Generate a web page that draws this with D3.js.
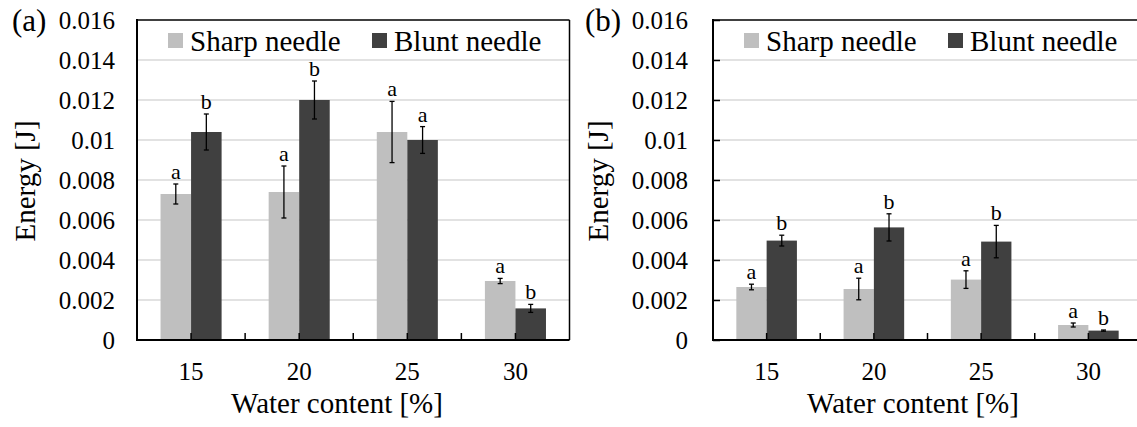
<!DOCTYPE html>
<html>
<head>
<meta charset="utf-8">
<script src="https://cdn.jsdelivr.net/npm/d3@7"></script>
<style>
    body { margin: 0; background: #fff; }
    svg { display: block; }
    svg text { font-family: "Liberation Serif", Tinos, "Times New Roman", Times, "DejaVu Serif", serif; }
</style>
</head>
<body>
<svg width="1137" height="427"></svg>
<script>
var categories = ["15", "20", "25", "30"];
var seriesNames = ["Sharp needle", "Blunt needle"];
var yTicks = [0, 0.002, 0.004, 0.006, 0.008, 0.01, 0.012, 0.014, 0.016];

// panel (a)
var sharpA = [0.0073, 0.0074, 0.0104, 0.00295];
var sharpErrA = [0.0005, 0.0013, 0.00153, 0.00013];
var bluntA = [0.0104, 0.0120, 0.0100, 0.00158];
var bluntErrA = [0.0009, 0.00095, 0.00067, 0.0002];
var sharpLetA = ["a", "a", "a", "a"];
var bluntLetA = ["b", "b", "a", "b"];

// panel (b)
var sharpB = [0.00265, 0.00255, 0.00302, 0.00075];
var sharpErrB = [0.00014, 0.00054, 0.00044, 0.0001];
var bluntB = [0.00497, 0.00563, 0.00492, 0.00047];
var bluntErrB = [0.00027, 0.00068, 0.00081, 0.00003];
var sharpLetB = ["a", "a", "a", "a"];
var bluntLetB = ["b", "b", "b", "b"];

var colors = ["#bfbfbf", "#404040"];
var serif = "'Liberation Serif', Tinos, 'Times New Roman', Times, 'DejaVu Serif', serif";

var svg = d3.select("svg").attr("font-family", serif);

function drawPanel(p) {
    var g = svg.append("g");

    var y = d3.scaleLinear()
        .domain([0, 0.016])
        .range([340, 20]);

    var x = d3.scaleBand()
        .domain(categories)
        .range([p.left, p.right])
        .padding(0);

    var cw = x.bandwidth();
    var inner = d3.scaleBand()
        .domain([0, 1])
        .range([cw * 0.2176, cw * 0.7824])
        .padding(0);

    // gridlines
    g.selectAll(".grid")
        .data(yTicks.slice(1, -1))
        .enter()
        .append("line")
        .attr("x1", p.left)
        .attr("x2", p.right)
        .attr("y1", function(d) { return y(d); })
        .attr("y2", function(d) { return y(d); })
        .attr("stroke", "#d9d9d9")
        .attr("stroke-width", 1.5);

    var series = [
        { vals: p.sharp, err: p.sharpErr, lets: p.sharpLet },
        { vals: p.blunt, err: p.bluntErr, lets: p.bluntLet }
    ];

    series.forEach(function(s, si) {
        g.selectAll(".bar" + si)
            .data(s.vals)
            .enter()
            .append("rect")
            .attr("x", function(d, i) { return x(categories[i]) + inner(si); })
            .attr("y", function(d) { return y(d); })
            .attr("width", inner.bandwidth())
            .attr("height", function(d) { return y(0) - y(d); })
            .attr("fill", colors[si]);
    });

    series.forEach(function(s, si) {
        s.vals.forEach(function(v, i) {
            var cx = x(categories[i]) + inner(si) + inner.bandwidth() / 2;
            var top = y(v + s.err[i]);
            var bot = y(v - s.err[i]);
            g.append("line")
                .attr("x1", cx).attr("x2", cx)
                .attr("y1", top).attr("y2", bot)
                .attr("stroke", "#000").attr("stroke-width", 1.3);
            [top, bot].forEach(function(yy) {
                g.append("line")
                    .attr("x1", cx - 2.5).attr("x2", cx + 2.5)
                    .attr("y1", yy).attr("y2", yy)
                    .attr("stroke", "#000").attr("stroke-width", 1.3);
            });
            g.append("text")
                .attr("x", cx)
                .attr("y", top - 5)
                .attr("text-anchor", "middle")
                .attr("font-size", "22px")
                .attr("fill", "#000")
                .text(s.lets[i]);
        });
    });

    // frame: top and right
    g.append("line")
        .attr("x1", p.left).attr("x2", p.right)
        .attr("y1", 20).attr("y2", 20)
        .attr("stroke", "#000").attr("stroke-width", 1.5);
    g.append("line")
        .attr("x1", p.right).attr("x2", p.right)
        .attr("y1", 20).attr("y2", 340)
        .attr("stroke", "#000").attr("stroke-width", 1.5);

    // y axis
    var yAxis = d3.axisLeft(y)
        .tickValues(yTicks)
        .tickSize(p.yTickLen)
        .tickFormat(function(d) { return String(+d.toFixed(3)); });

    var yAxisGroup = g.append("g")
        .attr("transform", "translate(" + p.left + ",0)")
        .attr("font-family", serif)
        .call(yAxis);
    yAxisGroup.attr("font-family", serif);
    yAxisGroup.select(".domain").remove();
    yAxisGroup.selectAll(".tick line")
        .attr("x2", p.yTickLen)
        .attr("stroke", "#000")
        .attr("stroke-width", 1.5);
    yAxisGroup.selectAll(".tick text")
        .attr("x", -(p.left - p.labelRight))
        .attr("dy", "0.34em")
        .attr("font-size", "25px")
        .attr("fill", "#000");

    // x axis with inside ticks at boundaries and centres
    var tickPos = [];
    categories.forEach(function(c, i) {
        if (i > 0) tickPos.push(x(c));
        tickPos.push(x(c) + cw / 2);
    });
    g.selectAll(".xtick")
        .data(tickPos)
        .enter()
        .append("line")
        .attr("x1", function(d) { return d; })
        .attr("x2", function(d) { return d; })
        .attr("y1", 340)
        .attr("y2", 333)
        .attr("stroke", "#000")
        .attr("stroke-width", 1.5);

    g.selectAll(".xlab")
        .data(categories)
        .enter()
        .append("text")
        .attr("x", function(d) { return x(d) + cw / 2; })
        .attr("y", 380)
        .attr("text-anchor", "middle")
        .attr("font-size", "25px")
        .attr("fill", "#000")
        .text(function(d) { return d; });

    // axis lines
    g.append("line")
        .attr("x1", p.left).attr("x2", p.left)
        .attr("y1", 19).attr("y2", 341)
        .attr("stroke", "#000").attr("stroke-width", 2);
    g.append("line")
        .attr("x1", p.left).attr("x2", p.right)
        .attr("y1", 340).attr("y2", 340)
        .attr("stroke", "#000").attr("stroke-width", 2);

    // titles
    g.append("text")
        .attr("transform", "translate(" + p.yTitleX + ",181) rotate(-90)")
        .attr("text-anchor", "middle")
        .attr("font-size", "29px")
        .attr("fill", "#000")
        .text("Energy [J]");

    g.append("text")
        .attr("x", p.left + 200)
        .attr("y", 413)
        .attr("text-anchor", "middle")
        .attr("font-size", "29px")
        .attr("fill", "#000")
        .text("Water content [%]");

    g.append("text")
        .attr("x", p.tagX)
        .attr("y", 31)
        .attr("font-size", "31px")
        .attr("fill", "#000")
        .text(p.tag);

    // legend
    var legX = [p.left + 31, p.left + 235];
    seriesNames.forEach(function(name, i) {
        g.append("rect")
            .attr("x", legX[i])
            .attr("y", 33)
            .attr("width", 15)
            .attr("height", 15)
            .attr("fill", colors[i]);
        g.append("text")
            .attr("x", legX[i] + 22)
            .attr("y", 51)
            .attr("font-size", "29px")
            .attr("fill", "#000")
            .text(name);
    });
}

drawPanel({
    left: 137, right: 569.5, labelRight: 115, yTickLen: 0,
    yTitleX: 35, tag: "(a)", tagX: 12,
    sharp: sharpA, sharpErr: sharpErrA, blunt: bluntA, bluntErr: bluntErrA,
    sharpLet: sharpLetA, bluntLet: bluntLetA
});

drawPanel({
    left: 713, right: 1142, labelRight: 688, yTickLen: 7,
    yTitleX: 608, tag: "(b)", tagX: 585,
    sharp: sharpB, sharpErr: sharpErrB, blunt: bluntB, bluntErr: bluntErrB,
    sharpLet: sharpLetB, bluntLet: bluntLetB
});
</script>
</body>
</html>
